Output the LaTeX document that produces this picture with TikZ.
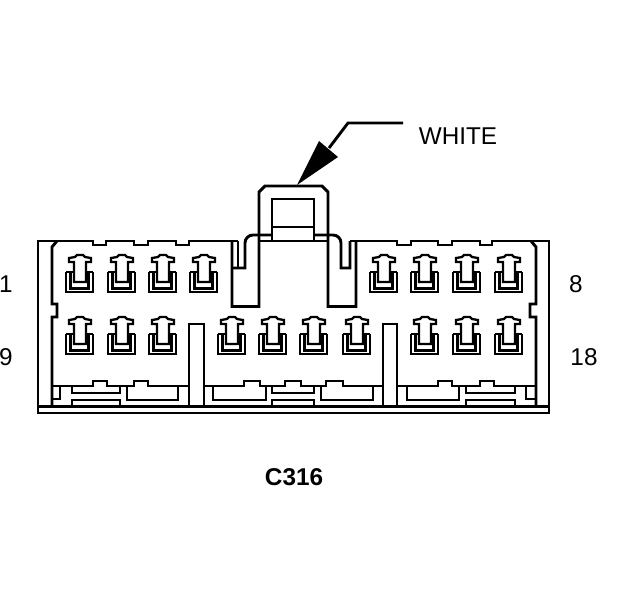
\documentclass[tikz,border=0pt]{standalone}
\usepackage{fontspec}
\setmainfont{Liberation Sans}
\tikzstyle{wall} = [
    line width=2.9pt,
    line join=miter
    ]
\tikzstyle{thin wall} = [
    line width=2.3pt
    ]
\tikzstyle{pinlabel} = [
    font=\fontsize{24.3}{26}\selectfont,
    inner sep=0pt
    ]
\newcommand{\term}[2]{% one terminal, (#1,#2) is the top left of its cradle
\begin{scope}[shift={(#1,#2)}]
    \draw[thin wall] (9,11) -- (9,-9) -- (4,-9) -- (4,-13) -- (10,-14) -- (12,-16) -- (18,-16) -- (20,-14) -- (26,-13) -- (26,-9) -- (21,-9) -- (21,11) -- cycle;
    \draw[wall] (1,1) -- (1,21) -- (28,21) -- (28,1);
    \draw[thin wall] (5.5,1) -- (5.5,17.5) -- (23.5,17.5) -- (23.5,1);
    \draw[thin wall] (1,1) -- (9,1) (21,1) -- (28,1);
\end{scope}}

\begin{document}
\begin{tikzpicture}[x=1pt,y=-1pt]
\useasboundingbox (0,0) rectangle (624,600);
% housing
\draw[wall] (238,241) -- (189,241) -- (189,245) -- (176,245) -- (176,241) -- (148,241) -- (148,245) -- (134,245) -- (134,241) -- (106,241) -- (106,245) -- (93,245) -- (93,241) -- (38,241) -- (38,413) -- (549,413) -- (549,241) -- (492,241) -- (492,245) -- (480,245) -- (480,241) -- (452,241) -- (452,245) -- (438,245) -- (438,241) -- (411,241) -- (411,245) -- (397,245) -- (397,241) -- (350,241);
\draw[wall] (38,406.5) -- (549,406.5);
\draw[wall] (57,241) -- (52,247) -- (52,304) -- (57,304) -- (57,317) -- (52,317) -- (52,407);
\draw[wall] (531,241) -- (536,247) -- (536,304) -- (530,304) -- (530,317) -- (536,317) -- (536,407);
% centre latch
\draw[wall] (232,241) -- (232,306.5) -- (259,306.5) -- (259,192) -- (265,186) -- (322,186) -- (328,192) -- (328,306.5) -- (356,306.5) -- (356,241);
\draw[wall] (232,268) -- (245,268) -- (245,243) arc (180:270:8) -- (272,235);
\draw[wall] (238,241) -- (238,268);
\draw[wall] (350,241) -- (350,268) -- (341,268) -- (341,243) arc (0:-90:8) -- (314,235);
\draw[wall] (259,241) -- (328,241);
\draw[wall] (272,241) -- (272,199) -- (314,199) -- (314,241);
\draw[wall] (272,227) -- (314,227);
% keys
\draw[wall] (189,407) -- (189,324) -- (204,324) -- (204,407);
\draw[wall] (383,407) -- (383,324) -- (397,324) -- (397,407);
% terminals
\term{65}{271}
\term{107}{271}
\term{148}{271}
\term{189}{271}
\term{369}{271}
\term{410}{271}
\term{452}{271}
\term{494}{271}
\term{65}{333}
\term{107}{333}
\term{148}{333}
\term{217}{333}
\term{258}{333}
\term{299}{333}
\term{342}{333}
\term{410}{333}
\term{452}{333}
\term{494}{333}
% bottom rail
\draw[wall] (52,386) -- (93,386) -- (93,381) -- (107,381) -- (107,386) -- (134,386) -- (134,381) -- (148,381) -- (148,386) -- (189,386);
\draw[wall] (204,386) -- (244,386) -- (244,381) -- (260,381) -- (260,386) -- (285,386) -- (285,381) -- (301,381) -- (301,386) -- (326,386) -- (326,381) -- (343,381) -- (343,386) -- (383,386);
\draw[wall] (397,386) -- (438,386) -- (438,381) -- (452,381) -- (452,386) -- (480,386) -- (480,381) -- (494,381) -- (494,386) -- (536,386);
% pockets under the rail
\draw[wall] (60,386) -- (60,399) -- (52,399);
\draw[wall] (72,386) -- (72,393) -- (120,393) -- (120,386);
\draw[wall] (72,406.5) -- (72,400) -- (120,400) -- (120,406.5);
\draw[wall] (127,386) -- (127,400) -- (178,400) -- (178,386);
\draw[wall] (213,386) -- (213,400) -- (266,400) -- (266,386);
\draw[wall] (272,386) -- (272,393) -- (314,393) -- (314,386);
\draw[wall] (272,406.5) -- (272,400) -- (314,400) -- (314,406.5);
\draw[wall] (321,386) -- (321,400) -- (373,400) -- (373,386);
\draw[wall] (407,386) -- (407,400) -- (459,400) -- (459,386);
\draw[wall] (466,386) -- (466,393) -- (515,393) -- (515,386);
\draw[wall] (466,406.5) -- (466,400) -- (515,400) -- (515,406.5);
\draw[wall] (526,386) -- (526,399) -- (536,399);
% labels
\node[pinlabel] (pinone) at (6,284) {1};
\node[pinlabel] (pineight) at (576,284) {8};
\node[pinlabel] (pinnine) at (6,357) {9};
\node[pinlabel] (pineighteen) at (584,357) {18};
\node[pinlabel] (colour) at (458,136) {WHITE};
\node[pinlabel,font=\fontsize{24.3}{26}\selectfont\bfseries] (name) at (294,477) {C316};
% leader and arrow head
\coordinate (leaderend) at (403,123);
\coordinate (leaderbend) at (348,123);
\coordinate (tip) at (297,185);
\draw[wall] (leaderend) -- (leaderbend) -- (329,148);
\fill (tip) -- (319,141) -- (338,157) -- cycle;
\end{tikzpicture}
\end{document}
